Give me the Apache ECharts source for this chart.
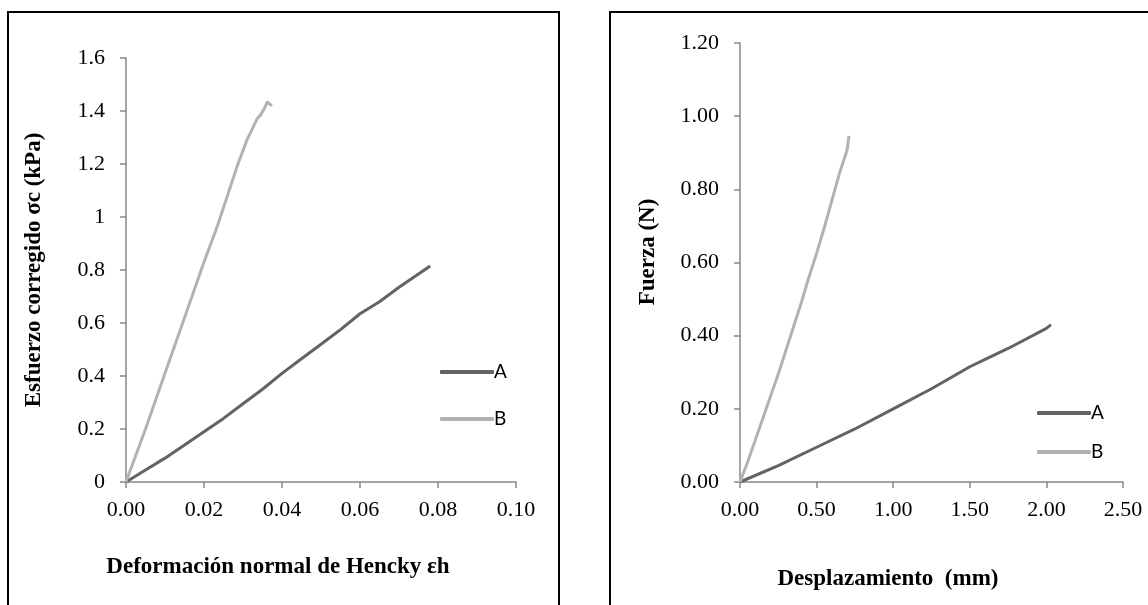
<!DOCTYPE html>
<html>
<head>
<meta charset="utf-8">
<script src="https://cdn.jsdelivr.net/npm/echarts@6/dist/echarts.min.js"></script>
<style>
  html, body { margin: 0; padding: 0; background: #ffffff; }
  #chart { width: 1148px; height: 605px; }
</style>
</head>
<body>
<div id="chart"></div>
<script>
// Left panel: corrected stress vs Hencky strain
const hencky_A_x = [0, 0.005, 0.01, 0.015, 0.02, 0.025, 0.03, 0.035, 0.04, 0.045, 0.05, 0.055, 0.06, 0.065, 0.07, 0.075, 0.078];
const hencky_A_y = [0, 0.045, 0.09, 0.14, 0.19, 0.24, 0.295, 0.35, 0.41, 0.465, 0.52, 0.575, 0.635, 0.68, 0.735, 0.785, 0.815];
const hencky_B_x = [0, 0.002, 0.005, 0.01, 0.015, 0.02, 0.0233, 0.026, 0.0287, 0.031, 0.0336, 0.0345, 0.0355, 0.0362, 0.0374];
const hencky_B_y = [0, 0.08, 0.2, 0.41, 0.62, 0.83, 0.96, 1.08, 1.2, 1.29, 1.37, 1.385, 1.41, 1.434, 1.419];

// Right panel: force vs displacement
const disp_A_x = [0, 0.25, 0.5, 0.75, 1.0, 1.25, 1.5, 1.6, 1.75, 2.0, 2.03];
const disp_A_y = [0, 0.045, 0.095, 0.145, 0.2, 0.255, 0.315, 0.335, 0.365, 0.42, 0.43];
const disp_B_x = [0, 0.05, 0.1, 0.15, 0.2, 0.25, 0.3, 0.35, 0.4, 0.45, 0.5, 0.55, 0.6, 0.65, 0.69, 0.7, 0.711];
const disp_B_y = [0, 0.055, 0.115, 0.175, 0.235, 0.295, 0.36, 0.425, 0.49, 0.56, 0.625, 0.695, 0.77, 0.845, 0.895, 0.91, 0.946];

const seriesNames = ['A', 'B'];
const seriesColors = ['#636363', '#b2b2b2'];

const leftXTitle = 'Deformación normal de Hencky εh';
const leftYTitle = 'Esfuerzo corregido σc (kPa)';
const rightXTitle = 'Desplazamiento  (mm)';
const rightYTitle = 'Fuerza (N)';

const zip = (xs, ys) => xs.map((x, i) => [x, ys[i]]);

const serif = 'Liberation Serif';
const axisGray = '#888888';
const tickFont = 22;
const titleFont = 23;

function makeAxis(opts, fmt, margin) {
  return Object.assign({
    type: 'value',
    splitLine: { show: false },
    axisLine: { show: true, onZero: false, lineStyle: { color: axisGray, width: 1.5 } },
    axisTick: { show: true, inside: false, length: 6, lineStyle: { color: axisGray, width: 1.5 } },
    axisLabel: { color: '#000', fontFamily: serif, fontSize: tickFont, margin: margin, formatter: fmt }
  }, opts);
}

function lineSeries(name, color, xi, yi, data) {
  return {
    type: 'line', name: name, xAxisIndex: xi, yAxisIndex: yi,
    data: data, showSymbol: false, symbol: 'none',
    lineStyle: { color: color, width: 3 }, itemStyle: { color: color },
    emphasis: { disabled: true }, animation: false
  };
}

function title(text, x, y, vertical) {
  return {
    type: 'text', x: x, y: y, rotation: vertical ? Math.PI / 2 : 0, silent: true,
    style: { text: text, fontFamily: serif, fontSize: titleFont, fontWeight: 'bold',
      fill: '#000', align: 'center', verticalAlign: 'middle' }
  };
}

const fix2 = v => v.toFixed(2);
const trim1 = v => String(+v.toFixed(1));

const legendText = { color: '#000', fontFamily: 'Lato', fontSize: 19, lineHeight: 20, padding: [0, 0, 0, -5] };

const chart = echarts.init(document.getElementById('chart'), null, { renderer: 'canvas' });

chart.setOption({
  backgroundColor: '#ffffff',
  animation: false,
  grid: [
    { left: 126, top: 58, width: 390, height: 424 },
    { left: 740, top: 43, width: 383, height: 439 }
  ],
  xAxis: [
    makeAxis({ gridIndex: 0, min: 0, max: 0.1, interval: 0.02 }, fix2, 17),
    makeAxis({ gridIndex: 1, min: 0, max: 2.5, interval: 0.5 }, fix2, 17)
  ],
  yAxis: [
    makeAxis({ gridIndex: 0, min: 0, max: 1.6, interval: 0.2 }, trim1, 21),
    makeAxis({ gridIndex: 1, min: 0, max: 1.2, interval: 0.2 }, fix2, 21)
  ],
  legend: [
    { data: seriesNames, orient: 'vertical', left: 435, top: 357, itemWidth: 54, itemHeight: 4,
      icon: 'roundRect', itemGap: 27, textStyle: legendText },
    { data: seriesNames, orient: 'vertical', left: 1032, top: 398, itemWidth: 54, itemHeight: 4,
      icon: 'roundRect', itemGap: 19, textStyle: legendText }
  ],
  series: [
    lineSeries(seriesNames[0], seriesColors[0], 0, 0, zip(hencky_A_x, hencky_A_y)),
    lineSeries(seriesNames[1], seriesColors[1], 0, 0, zip(hencky_B_x, hencky_B_y)),
    lineSeries(seriesNames[0], seriesColors[0], 1, 1, zip(disp_A_x, disp_A_y)),
    lineSeries(seriesNames[1], seriesColors[1], 1, 1, zip(disp_B_x, disp_B_y))
  ],
  graphic: [
    // panel frames
    { type: 'rect', silent: true, shape: { x: 8, y: 12, width: 551, height: 700 },
      style: { fill: 'none', stroke: '#000', lineWidth: 2 } },
    { type: 'rect', silent: true, shape: { x: 610, y: 12, width: 600, height: 700 },
      style: { fill: 'none', stroke: '#000', lineWidth: 2 } },
    // axis titles
    title(leftXTitle, 278, 567, false),
    title(leftYTitle, 34, 270, true),
    title(rightXTitle, 888, 579, false),
    title(rightYTitle, 648, 252, true)
  ]
});
</script>
</body>
</html>
